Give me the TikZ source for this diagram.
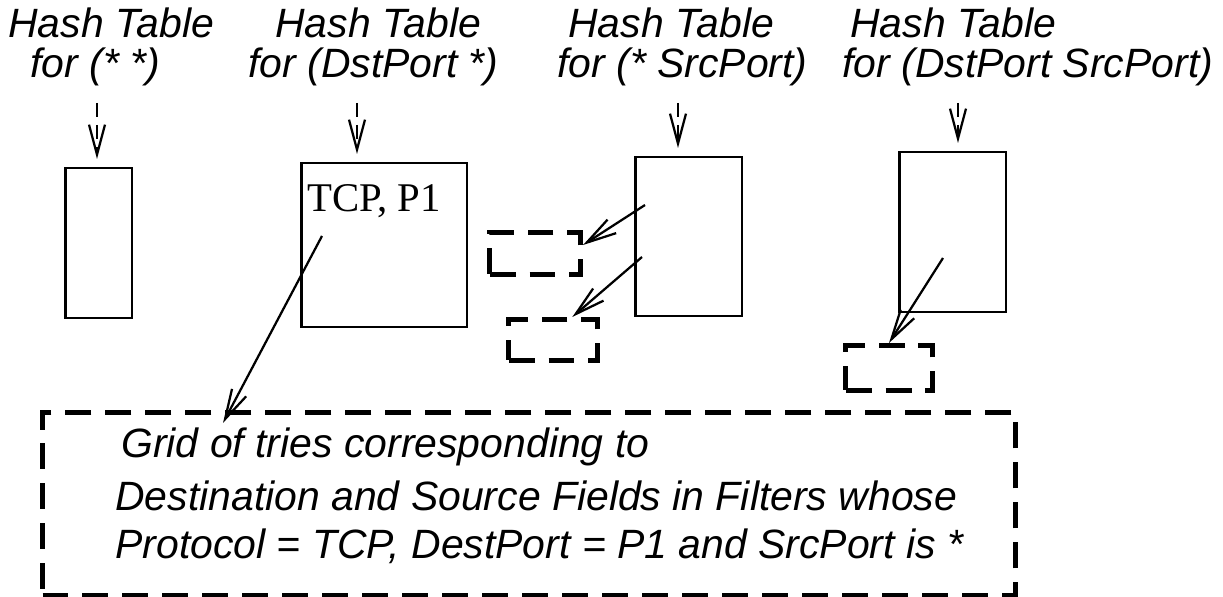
\documentclass[tikz,border=0pt]{standalone}
\usepackage{fontspec}
\setmainfont{Liberation Serif}
\setsansfont{Liberation Sans}
\usepackage{tikz}
\usetikzlibrary{calc,arrows.meta}
\tikzset{
  htbox/.style  = {draw, line width=0.05cm, inner sep=0pt, anchor=north west},
  bucket/.style = {draw, line width=0.1cm, dash pattern=on 0.52cm off 0.28cm,
                   inner sep=0pt, anchor=north west},
  ptr/.style    = {line width=0.045cm,
                   -{Straight Barb[length=0.6cm, width=0.32cm]}},
  hptr/.style   = {ptr, dash pattern=on 0.28cm off 0.16cm, shorten >=0.16cm},
  lbl/.style    = {font=\fontsize{23.3}{28}\selectfont\sffamily\itshape,
                   inner sep=0pt, anchor=base west},
  key/.style    = {font=\fontsize{23.2}{28}\selectfont\rmfamily,
                   inner sep=0pt, anchor=base west},
}
\begin{document}
\begin{tikzpicture}[x=0.02cm, y=-0.02cm]
  \useasboundingbox (0,0) rectangle (1223,597);
  % headings
  \node[lbl] (h1a) at (8,38)   {Hash Table};
  \node[lbl] (h1b) at (30,78)  {for (* *)};
  \node[lbl] (h2a) at (275,38) {Hash Table};
  \node[lbl] (h2b) at (248,78) {for (DstPort *)};
  \node[lbl] (h3a) at (568,38) {Hash Table};
  \node[lbl] (h3b) at (557,78) {for (* SrcPort)};
  \node[lbl] (h4a) at (850,38) {Hash Table};
  \node[lbl] (h4b) at (842,78) {for (DstPort SrcPort)};
  % hash tables
  \node[htbox, minimum width=1.34cm, minimum height=3cm]    (t1) at (64,167)  {};
  \node[htbox, minimum width=3.32cm, minimum height=3.28cm] (t2) at (300,162) {};
  \node[htbox, minimum width=2.14cm, minimum height=3.18cm] (t3) at (634,156) {};
  \node[htbox, minimum width=2.14cm, minimum height=3.2cm]  (t4) at (898,151) {};
  \node[key] (k2) at (307,212) {TCP, P1};
  % tries hanging off the entries
  \node[bucket, minimum width=1.82cm, minimum height=0.84cm] (bA) at (487,230) {};
  \node[bucket, minimum width=1.78cm, minimum height=0.82cm] (bB) at (506,317) {};
  \node[bucket, minimum width=1.74cm, minimum height=0.9cm]  (bC) at (843,343) {};
  \node[bucket, minimum width=19.46cm, minimum height=3.66cm] (grid) at (40,410) {};
  \node[lbl] (g1) at (121,458) {Grid of tries corresponding to};
  \node[lbl] (g2) at (115,510) {Destination and Source Fields in Filters whose};
  \node[lbl] (g3) at (115,558) {Protocol = TCP, DestPort = P1 and SrcPort is *};
  % heading arrows
  \coordinate (a1) at (97,103);
  \coordinate (a2) at (357,103);
  \coordinate (a3) at (678,103);
  \coordinate (a4) at (958,103);
  \draw[hptr] (a1) -- (a1 |- t1.north);
  \draw[hptr] (a2) -- (a2 |- t2.north);
  \draw[hptr] (a3) -- (a3 |- t3.north);
  \draw[hptr] (a4) -- (a4 |- t4.north);
  % entry pointers
  \coordinate (p2)  at ($(t2.north west)+(22,74)$);
  \coordinate (q2)  at ($(grid.north west)+(183,13)$);
  \coordinate (p3a) at ($(t3.north west)+(11,49)$);
  \coordinate (p3b) at ($(t3.north west)+(8,101)$);
  \coordinate (p4)  at ($(t4.north west)+(45,107)$);
  \draw[ptr] (p2)  -- (q2);
  \draw[ptr] (p3a) -- (bA.10);
  \draw[ptr] (p3b) -- (bB.50);
  \draw[ptr] (p4)  -- (bC.north);
\end{tikzpicture}
\end{document}
